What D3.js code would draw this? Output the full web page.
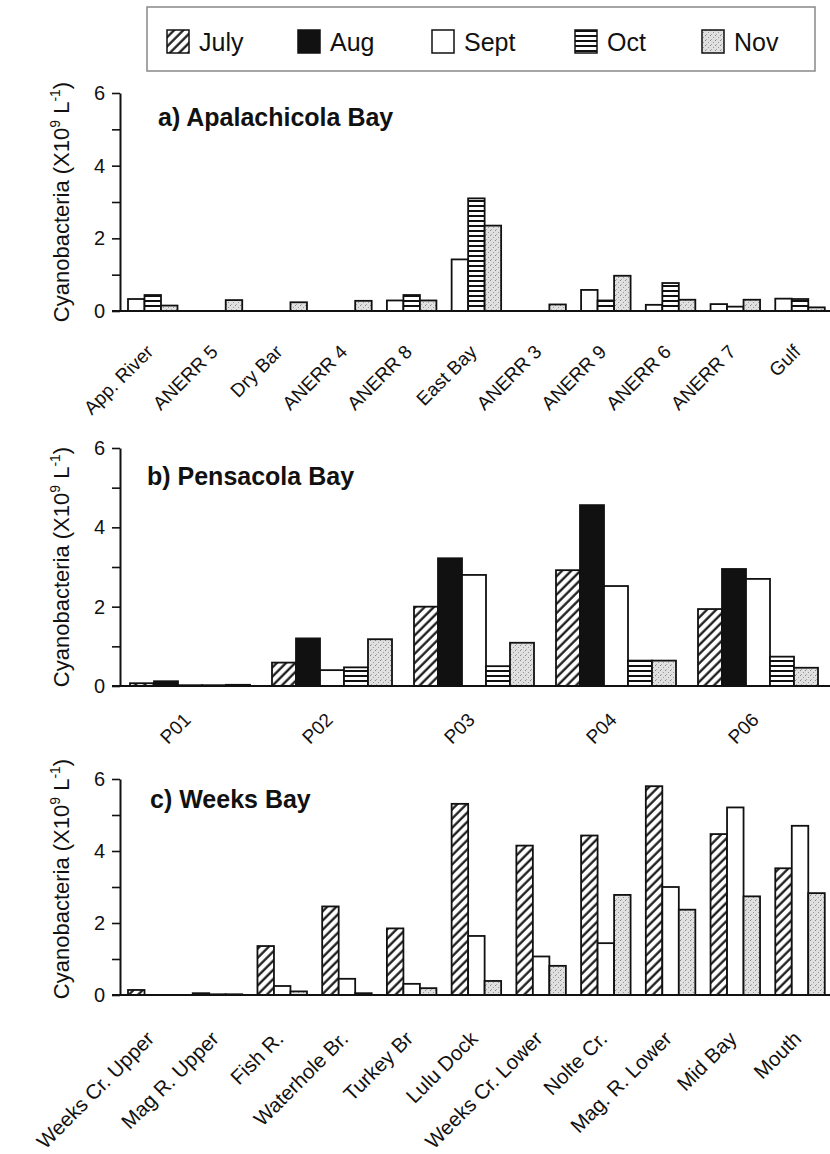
<!DOCTYPE html>
<html>
<head>
<meta charset="utf-8">
<script src="https://cdn.jsdelivr.net/npm/d3@7"></script>
<style>
  body { margin: 0; background: #fff; }
  text { font-family: "Liberation Sans", Arial, sans-serif; fill: #111; }
</style>
</head>
<body>
<div id="main"></div>
<script>
const Width = 830, Height = 1154;

// months / legend
const months = ["July", "Aug", "Sept", "Oct", "Nov"];

// a) Apalachicola Bay
const apaSites = ["App. River", "ANERR 5", "Dry Bar", "ANERR 4", "ANERR 8", "East Bay", "ANERR 3", "ANERR 9", "ANERR 6", "ANERR 7", "Gulf"];
const apaSept = [0.33, 0, 0, 0, 0.29, 1.42, 0, 0.58, 0.17, 0.19, 0.34];
const apaOct  = [0.44, 0, 0, 0, 0.44, 3.10, 0, 0.29, 0.77, 0.12, 0.33];
const apaNov  = [0.15, 0.30, 0.24, 0.28, 0.29, 2.35, 0.18, 0.97, 0.31, 0.31, 0.10];

// b) Pensacola Bay
const penSites = ["P01", "P02", "P03", "P04", "P06"];
const penJuly = [0.07, 0.59, 2.00, 2.92, 1.94];
const penAug  = [0.12, 1.20, 3.22, 4.56, 2.95];
const penSept = [0.02, 0.40, 2.80, 2.52, 2.70];
const penOct  = [0.02, 0.47, 0.50, 0.64, 0.74];
const penNov  = [0.03, 1.18, 1.09, 0.64, 0.46];

// c) Weeks Bay
const wkSites = ["Weeks Cr. Upper", "Mag R. Upper", "Fish R.", "Waterhole Br.", "Turkey Br", "Lulu Dock", "Weeks Cr. Lower", "Nolte Cr.", "Mag. R. Lower", "Mid Bay", "Mouth"];
const wkJuly = [0.14, 0.05, 1.36, 2.46, 1.85, 5.31, 4.15, 4.43, 5.80, 4.47, 3.52];
const wkSept = [0, 0.02, 0.25, 0.45, 0.31, 1.64, 1.07, 1.44, 3.00, 5.21, 4.70];
const wkNov  = [0, 0.02, 0.10, 0.05, 0.19, 0.39, 0.81, 2.78, 2.37, 2.74, 2.83];

const yTicks = [0, 1, 2, 3, 4, 5, 6];

const svg = d3.select("#main")
    .append("svg")
    .attr("width", Width)
    .attr("height", Height);

// fill patterns
const defs = svg.append("defs");
defs.append("pattern").attr("id", "p-July")
    .attr("patternUnits", "userSpaceOnUse").attr("width", 6.5).attr("height", 6.5)
    .attr("patternTransform", "rotate(45)")
    .call(p => {
        p.append("rect").attr("width", 6.5).attr("height", 6.5).attr("fill", "#fff");
        p.append("line").attr("x1", 1.5).attr("x2", 1.5).attr("y1", 0).attr("y2", 6.5)
            .attr("stroke", "#111").attr("stroke-width", 2.2);
    });
defs.append("pattern").attr("id", "p-Oct")
    .attr("patternUnits", "userSpaceOnUse").attr("width", 6).attr("height", 5)
    .call(p => {
        p.append("rect").attr("width", 6).attr("height", 5).attr("fill", "#fff");
        p.append("line").attr("x1", 0).attr("x2", 6).attr("y1", 1).attr("y2", 1)
            .attr("stroke", "#111").attr("stroke-width", 2);
    });
defs.append("pattern").attr("id", "p-Nov")
    .attr("patternUnits", "userSpaceOnUse").attr("width", 5).attr("height", 5)
    .call(p => {
        p.append("rect").attr("width", 5).attr("height", 5).attr("fill", "#e0e0e0");
        p.append("rect").attr("x", 0).attr("y", 0).attr("width", 1).attr("height", 1).attr("fill", "#888");
        p.append("rect").attr("x", 3).attr("y", 2).attr("width", 1).attr("height", 1).attr("fill", "#999");
        p.append("rect").attr("x", 1).attr("y", 4).attr("width", 1).attr("height", 1).attr("fill", "#aaa");
    });

const fills = {July: "url(#p-July)", Aug: "#111", Sept: "#fff", Oct: "url(#p-Oct)", Nov: "url(#p-Nov)"};

// legend
const legend = svg.append("g");
legend.append("rect")
    .attr("x", 147).attr("y", 7).attr("width", 668).attr("height", 64)
    .attr("fill", "#fff").attr("stroke", "#888").attr("stroke-width", 1.5);
const legX = [167, 298, 432, 575, 702];
months.forEach((m, i) => {
    legend.append("rect")
        .attr("x", legX[i]).attr("y", 30).attr("width", 22).attr("height", 23)
        .attr("fill", fills[m]).attr("stroke", "#111").attr("stroke-width", 1.5);
    legend.append("text")
        .attr("x", legX[i] + 32).attr("y", 51)
        .attr("font-size", 25)
        .text(m);
});

function panel(opts) {
    const g = svg.append("g");
    const y = d3.scaleLinear().domain([0, 6]).range([opts.bottom, opts.top]);
    const x0 = d3.scaleBand().domain(opts.sites).range([120, opts.right]);
    const x1 = d3.scaleBand().domain(opts.series.map(s => s.name)).range(opts.sub);

    const rows = [];
    opts.sites.forEach((site, i) => {
        opts.series.forEach(s => {
            if (s.values[i] > 0) rows.push({site: site, name: s.name, v: s.values[i]});
        });
    });

    g.selectAll("rect.bar").data(rows).enter().append("rect")
        .attr("class", "bar")
        .attr("x", d => x0(d.site) + x1(d.name))
        .attr("y", d => y(d.v))
        .attr("width", x1.bandwidth())
        .attr("height", d => y(0) - y(d.v))
        .attr("fill", d => fills[d.name])
        .attr("stroke", "#111")
        .attr("stroke-width", 1.8);

    // y axis
    const ya = g.append("g")
        .attr("transform", `translate(120,0)`)
        .call(d3.axisLeft(y).tickValues(yTicks).tickFormat(d => d % 2 === 0 ? d : "").tickSize(8).tickSizeOuter(0));
    ya.select(".domain").attr("stroke", "#111").attr("stroke-width", 2);
    ya.selectAll(".tick line").attr("stroke", "#111").attr("stroke-width", 1.6);
    ya.selectAll(".tick text").attr("font-size", 20).attr("x", -15)
        .attr("font-family", "Liberation Sans, Arial, sans-serif").attr("fill", "#222");

    // x axis
    const xa = g.append("g")
        .attr("transform", `translate(0,${opts.bottom})`)
        .call(d3.axisBottom(x0).tickSize(0).tickSizeOuter(0));
    xa.select(".domain").attr("stroke", "#111").attr("stroke-width", 2)
        .attr("d", `M112,0H830`);
    xa.selectAll(".tick text")
        .attr("font-size", opts.labelSize)
        .attr("font-family", "Liberation Sans, Arial, sans-serif")
        .attr("fill", "#222")
        .attr("text-anchor", "end")
        .attr("y", 0).attr("dy", 0)
        .attr("transform", `translate(${opts.labelDx},${opts.labelDy}) rotate(-45)`);

    // title
    g.append("text")
        .attr("x", opts.titleX).attr("y", opts.top + opts.titleDy)
        .attr("font-size", 25).attr("font-weight", "bold")
        .text(opts.title);

    // y label
    const yl = g.append("text")
        .attr("transform", `translate(69,${(opts.top + opts.bottom) / 2 + opts.ylShift}) rotate(-90)`)
        .attr("text-anchor", "middle")
        .attr("font-size", 22);
    yl.append("tspan").text("Cyanobacteria (X10");
    yl.append("tspan").attr("dy", -9).attr("font-size", 14).text("9");
    yl.append("tspan").attr("dy", 9).text(" L");
    yl.append("tspan").attr("dy", -9).attr("font-size", 14).text("-1");
    yl.append("tspan").attr("dy", 9).text(")");
}

panel({
    title: "a) Apalachicola Bay", titleX: 158, titleDy: 33,
    top: 93, bottom: 311, right: 832, ylShift: 0,
    sites: apaSites,
    series: [{name: "Sept", values: apaSept}, {name: "Oct", values: apaOct}, {name: "Nov", values: apaNov}],
    sub: [8, 57.5], labelSize: 19, labelDx: 2, labelDy: 42
});

panel({
    title: "b) Pensacola Bay", titleX: 147, titleDy: 37,
    top: 448, bottom: 686, right: 830, ylShift: 0,
    sites: penSites,
    series: [{name: "July", values: penJuly}, {name: "Aug", values: penAug}, {name: "Sept", values: penSept},
             {name: "Oct", values: penOct}, {name: "Nov", values: penNov}],
    sub: [10, 130], labelSize: 19, labelDx: 1, labelDy: 35
});

panel({
    title: "c) Weeks Bay", titleX: 150, titleDy: 29,
    top: 779, bottom: 995, right: 832, ylShift: -8,
    sites: wkSites,
    series: [{name: "July", values: wkJuly}, {name: "Sept", values: wkSept}, {name: "Nov", values: wkNov}],
    sub: [8, 57.5], labelSize: 20.5, labelDx: 3, labelDy: 45
});
</script>
</body>
</html>
